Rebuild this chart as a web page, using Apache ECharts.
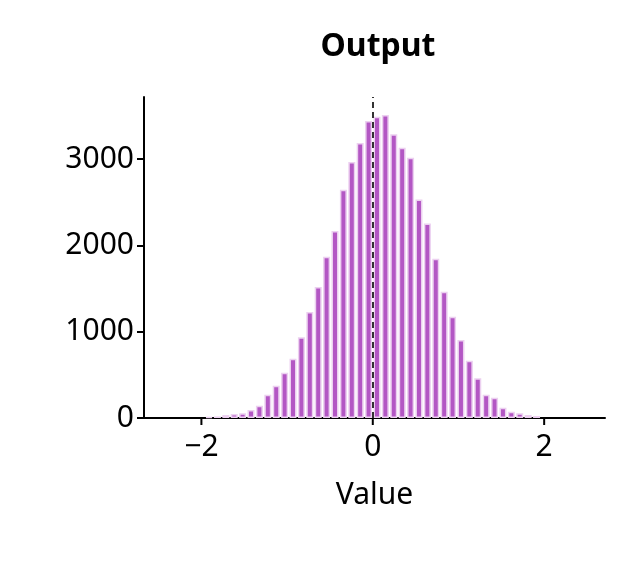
<!DOCTYPE html>
<html><head><meta charset="utf-8">
<script src="https://cdn.jsdelivr.net/npm/echarts@6/dist/echarts.min.js"></script>
<style>html,body{margin:0;padding:0;background:#fff}#c{width:634px;height:574px}</style>
</head><body><div id="c"></div>
<script>
var binWidth = 0.098;
var binCenters = [];
for (var i = -20; i < 20; i++) binCenters.push(+((i + 0.5) * binWidth).toFixed(3));
var counts = [10,18,35,46,54,93,143,270,375,525,687,935,1228,1518,1869,2167,2645,2966,3186,3441,3491,
              3510,3287,3132,3016,2533,2255,1846,1464,1174,904,664,460,270,236,120,73,54,35,23];
var xTicks = [-2, 0, 2];
var yTicks = [0, 1000, 2000, 3000];
var data = binCenters.map(function(c, i){ return [c, counts[i]]; });
var font = 'Noto Sans';
var chart = echarts.init(document.getElementById('c'));
chart.setOption({
  animation:false,
  title:{text:'Output',left:373,top:26,textAlign:'center',textStyle:{fontFamily:font,fontWeight:'bold',fontSize:32,color:'#000'}},
  grid:{left:144,right:29,top:97,bottom:156},
  xAxis:{type:'value',min:-2.67,max:2.71,name:'Value',nameLocation:'middle',nameGap:62,
    nameTextStyle:{fontFamily:font,fontSize:30,color:'#000'},
    axisLine:{onZero:false,lineStyle:{color:'#000',width:2}},
    axisTick:{show:false},
    axisLabel:{fontFamily:font,fontSize:30,color:'#000',margin:14,customValues:xTicks,formatter:function(v){return v<0?'\u2212'+(-v):''+v;}},
    splitLine:{show:false}},
  yAxis:{type:'value',min:0,max:3720,interval:1000,
    axisLine:{show:true,onZero:false,lineStyle:{color:'#000',width:2}},
    axisTick:{show:true,length:7,lineStyle:{color:'#000',width:2}},
    axisLabel:{fontFamily:font,fontSize:30,color:'#000',margin:10,showMaxLabel:false,formatter:function(v){return ''+v;}},
    splitLine:{show:false}},
  series:[{type:'bar',data:data,barWidth:7,
    itemStyle:{color:'#b357c4',borderColor:'#ecd0f0',borderWidth:1.5},
    markLine:{symbol:'none',silent:true,label:{show:false},
      lineStyle:{color:'#333',type:[6,4],width:2},data:[{xAxis:0}]}},
   {type:'custom',clip:false,silent:true,data:xTicks.map(function(t){return [t,0];}),
    renderItem:function(params,api){
      var p=api.coord([api.value(0),0]);
      return {type:'line',shape:{x1:p[0],y1:p[1],x2:p[0],y2:p[1]+7},style:{stroke:'#000',lineWidth:2}};
    }}]
});
</script></body></html>
